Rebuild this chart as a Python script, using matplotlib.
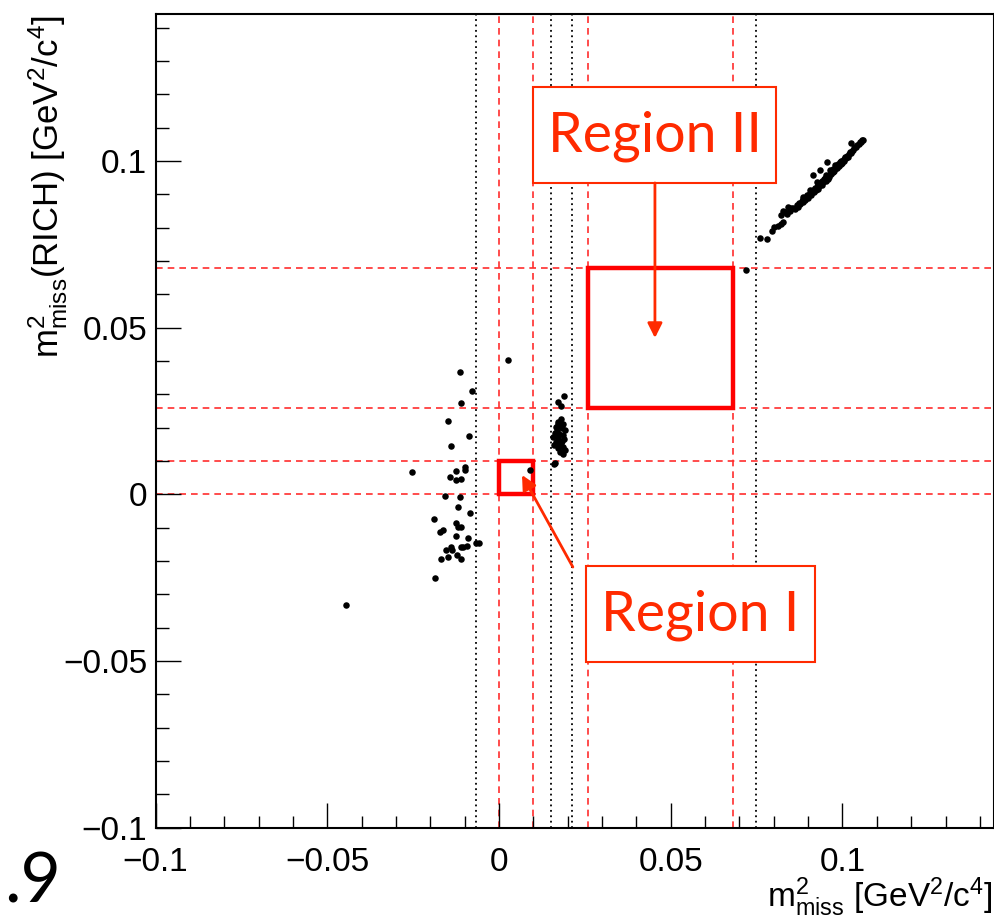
import matplotlib
matplotlib.use("Agg")
import matplotlib.pyplot as plt
from matplotlib.patches import Rectangle

plt.rcParams['font.family'] = ['Liberation Sans', 'DejaVu Sans']
plt.rcParams['mathtext.fontset'] = 'custom'
plt.rcParams['mathtext.rm'] = 'Liberation Sans'
plt.rcParams['mathtext.it'] = 'Liberation Sans:italic'

# events: left cluster
left_x = [0.0027, -0.0114, -0.0079, -0.0110, -0.0149, -0.0087, -0.0141, -0.0254, -0.0125, -0.0100,
          -0.0099, -0.0142, -0.0125, -0.0111, -0.0158, -0.0114, -0.0118, -0.0085, -0.0190, -0.0124,
          -0.0119, -0.0110, -0.0172, -0.0163, -0.0124, -0.0090, -0.0067, -0.0059, -0.0155, -0.0139,
          -0.0137, -0.0111, -0.0106, -0.0092, -0.0123, -0.0111, -0.0148, -0.0169, -0.0185, -0.0445]
left_y = [0.0403, 0.0368, 0.0310, 0.0273, 0.0220, 0.0174, 0.0144, 0.0066, 0.0069, 0.0083,
          0.0073, 0.0052, 0.0042, 0.0047, -0.0005, -0.0007, -0.0037, -0.0056, -0.0073, -0.0087,
          -0.0097, -0.0097, -0.0114, -0.0107, -0.0125, -0.0131, -0.0147, -0.0145, -0.0167, -0.0159,
          -0.0167, -0.0157, -0.0159, -0.0155, -0.0183, -0.0195, -0.0187, -0.0195, -0.0250, -0.0332]

# events: middle cluster
mid_x = [0.0189, 0.0173, 0.0180, 0.0180, 0.0173, 0.0187, 0.0166, 0.0183, 0.0192, 0.0163,
         0.0176, 0.0187, 0.0158, 0.0173, 0.0189, 0.0166, 0.0180, 0.0160, 0.0185, 0.0173,
         0.0192, 0.0178, 0.0185, 0.0163, 0.0170, 0.0177, 0.0168, 0.0182, 0.0175, 0.0171,
         0.0091, 0.0160, 0.0718]
mid_y = [0.0296, 0.0276, 0.0266, 0.0226, 0.0216, 0.0210, 0.0203, 0.0198, 0.0193, 0.0183,
         0.0180, 0.0178, 0.0173, 0.0168, 0.0166, 0.0158, 0.0153, 0.0148, 0.0143, 0.0138,
         0.0133, 0.0128, 0.0120, 0.0093, 0.0190, 0.0205, 0.0185, 0.0160, 0.0150, 0.0212,
         0.0072, 0.0091, 0.0673]

# events: upper right band
band_x = [0.0760, 0.0779, 0.0796, 0.0802, 0.0811, 0.0820, 0.0826, 0.0820, 0.0826, 0.0833,
          0.0838, 0.0842, 0.0847, 0.0850, 0.0857, 0.0862, 0.0867, 0.0870, 0.0872, 0.0876,
          0.0881, 0.0884, 0.0886, 0.0890, 0.0893, 0.0896, 0.0899, 0.0902, 0.0905, 0.0908,
          0.0910, 0.0913, 0.0914, 0.0917, 0.0920, 0.0922, 0.0925, 0.0928, 0.0930, 0.0933,
          0.0935, 0.0936, 0.0939, 0.0941, 0.0944, 0.0946, 0.0949, 0.0951, 0.0954, 0.0955,
          0.0957, 0.0960, 0.0962, 0.0964, 0.0966, 0.0968, 0.0971, 0.0973, 0.0976, 0.0978,
          0.0980, 0.0983, 0.0985, 0.0988, 0.0990, 0.0993, 0.0995, 0.0998, 0.1000, 0.1003,
          0.1005, 0.1007, 0.1010, 0.1013, 0.1016, 0.1019, 0.1022, 0.1025, 0.1025, 0.1028,
          0.1031, 0.1034, 0.1036, 0.1040, 0.1043, 0.1047, 0.1051, 0.1055, 0.1058, 0.1061,
          0.0927, 0.0906, 0.0885, 0.0952, 0.0996]
band_y = [0.0768, 0.0765, 0.0790, 0.0802, 0.0805, 0.0810, 0.0818, 0.0838, 0.0850, 0.0846,
          0.0842, 0.0863, 0.0851, 0.0858, 0.0860, 0.0857, 0.0868, 0.0862, 0.0874, 0.0871,
          0.0880, 0.0876, 0.0887, 0.0884, 0.0892, 0.0898, 0.0889, 0.0897, 0.0903, 0.0899,
          0.0908, 0.0958, 0.0912, 0.0906, 0.0918, 0.0912, 0.0923, 0.0917, 0.0929, 0.0925,
          0.0973, 0.0934, 0.0929, 0.0940, 0.0936, 0.0945, 0.0948, 0.0941, 0.0998, 0.0952,
          0.0947, 0.0958, 0.0953, 0.0973, 0.0962, 0.0970, 0.0966, 0.0975, 0.0970, 0.0988,
          0.0978, 0.0984, 0.0979, 0.0990, 0.0985, 0.0998, 0.0991, 0.1000, 0.0995, 0.1006,
          0.1001, 0.1013, 0.1009, 0.1016, 0.1012, 0.1022, 0.1028, 0.1053, 0.1024, 0.1031,
          0.1034, 0.1038, 0.1043, 0.1041, 0.1047, 0.1051, 0.1058, 0.1057, 0.1062, 0.1063,
          0.0938, 0.0913, 0.0893, 0.0958, 0.1001]

# cut lines
cut_lines = [0.0, 0.010, 0.026, 0.068]
peak_lines = [-0.0067, 0.0151, 0.0212, 0.0748]
region1 = (0.0, 0.010)
region2 = (0.026, 0.068)

xmin, xmax = -0.1, 0.144
ymin, ymax = -0.1, 0.144

fig = plt.figure(figsize=(9.95, 9.19), dpi=100)
ax = fig.add_axes([0.1563, 0.0993, 0.8423, 0.8852])

red = '#ff2e2e'
orange = '#ff2a00'

for v in peak_lines:
    ax.axvline(v, color='black', lw=1.3, ls=(0, (1, 2.0)), zorder=1)
for v in cut_lines:
    ax.axvline(v, color=red, lw=1.2, ls=(0, (4, 3)), zorder=1)
    ax.axhline(v, color=red, lw=1.2, ls=(0, (4, 3)), zorder=1)

for lo, hi in [region1, region2]:
    ax.add_patch(Rectangle((lo, lo), hi - lo, hi - lo, fill=False, edgecolor='#ff0000', lw=3.2, zorder=3))

ax.scatter(left_x + mid_x + band_x, left_y + mid_y + band_y, s=22, color='black', linewidths=0, zorder=4)

ax.set_xlim(xmin, xmax)
ax.set_ylim(ymin, ymax)
ax.set_xticks([-0.1, -0.05, 0, 0.05, 0.1])
ax.set_yticks([-0.1, -0.05, 0, 0.05, 0.1])
ax.set_xticklabels(['\u22120.1', '\u22120.05', '0', '0.05', '0.1'])
ax.set_yticklabels(['\u22120.1', '\u22120.05', '0', '0.05', '0.1'])
ax.set_xticks([i / 100 for i in range(-10, 15)], minor=True)
ax.set_yticks([i / 100 for i in range(-10, 15)], minor=True)
ax.tick_params(which='both', direction='in', top=False, right=False, width=1.0, color='black')
ax.tick_params(which='major', length=18)
ax.tick_params(which='minor', length=9)
ax.tick_params(axis='x', which='major', labelsize=24, pad=14)
ax.tick_params(axis='y', which='major', labelsize=24, pad=6)
for s in ax.spines.values():
    s.set_linewidth(1.5)

# region labels
text_kw = dict(color=orange, fontsize=40, family=['Lato', 'DejaVu Sans'], ha='center', va='center', zorder=6)
ax.add_patch(Rectangle((0.0099, 0.0934), 0.0707, 0.0288, fill=True, facecolor='white',
                       edgecolor=orange, lw=1.5, zorder=5))
ax.text(0.0453, 0.1075, 'Region II', **text_kw)
ax.add_patch(Rectangle((0.0253, -0.0503), 0.0667, 0.0288, fill=True, facecolor='white',
                       edgecolor=orange, lw=1.5, zorder=5))
ax.text(0.0587, -0.0362, 'Region I', **text_kw)

arrow_kw = dict(arrowstyle='-|>', color=orange, lw=2, mutation_scale=22, shrinkA=0, shrinkB=0)
ax.annotate('', xy=(0.0454, 0.0469), xytext=(0.0454, 0.0934), arrowprops=arrow_kw, zorder=6)
ax.annotate('', xy=(0.0067, 0.0058), xytext=(0.0215, -0.0218), arrowprops=arrow_kw, zorder=6)

# axis titles
fig.text(0.998, 0.013, r'$\mathrm{m}^{2}_{\mathrm{miss}}$ [GeV$^{2}$/c$^{4}$]', fontsize=24,
         ha='right', va='baseline')
fig.text(0.048, 0.984, r'$\mathrm{m}^{2}_{\mathrm{miss}}$(RICH) [GeV$^{2}$/c$^{4}$]', fontsize=25,
         ha='center', va='top', rotation=90)

fig.text(0.004, 0.018, '.9', fontsize=50, family=['Lato', 'DejaVu Sans'], ha='left', va='baseline')

fig.savefig('out.png', dpi=100)
plt.close(fig)
